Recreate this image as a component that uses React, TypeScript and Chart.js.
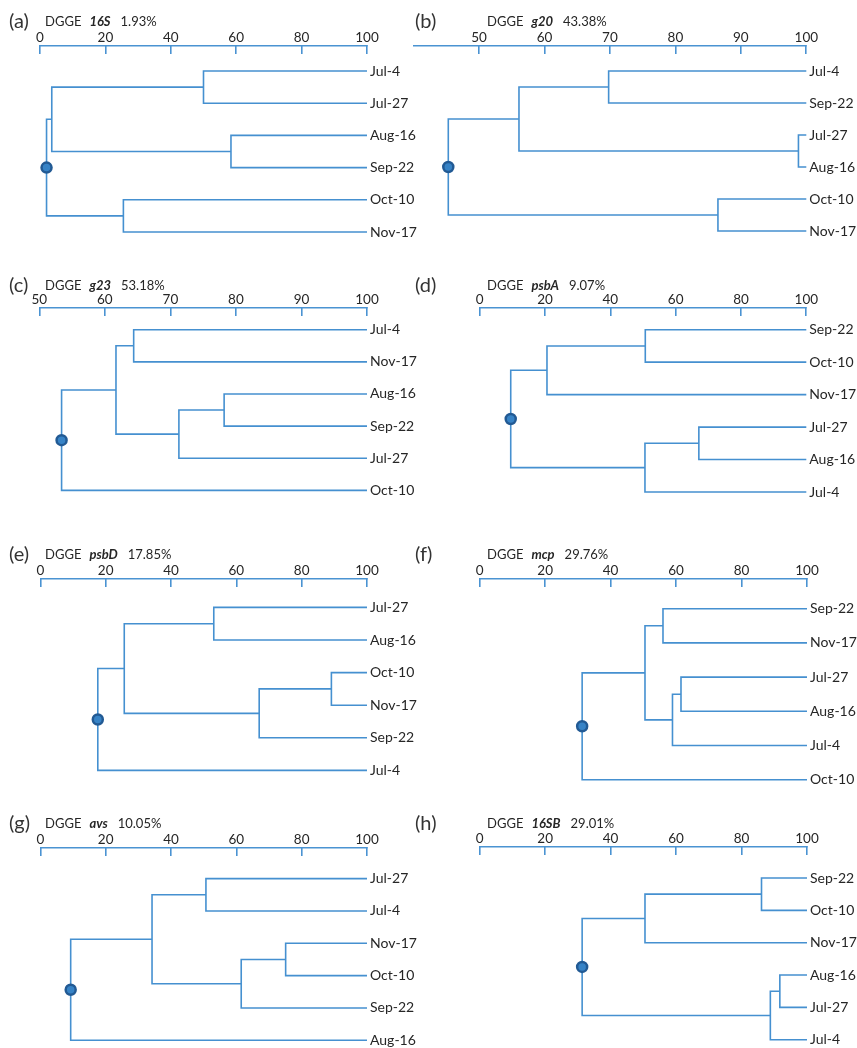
import React, { useEffect, useRef } from "react";
import { Chart, registerables } from "chart.js";

Chart.register(...registerables);

// ---------------- DATA ----------------
const panelLetters = ["(a)", "(b)", "(c)", "(d)", "(e)", "(f)", "(g)", "(h)"];
const geneNames = ["16S", "g20", "g23", "psbA", "psbD", "mcp", "avs", "16SB"];
const similarityLabels = ["1.93%", "43.38%", "53.18%", "9.07%", "17.85%", "29.76%", "10.05%", "29.01%"];

// leaf order (top to bottom) for each dendrogram
const leavesA = ["Jul-4", "Jul-27", "Aug-16", "Sep-22", "Oct-10", "Nov-17"];
const leavesB = ["Jul-4", "Sep-22", "Jul-27", "Aug-16", "Oct-10", "Nov-17"];
const leavesC = ["Jul-4", "Nov-17", "Aug-16", "Sep-22", "Jul-27", "Oct-10"];
const leavesD = ["Sep-22", "Oct-10", "Nov-17", "Jul-27", "Aug-16", "Jul-4"];
const leavesE = ["Jul-27", "Aug-16", "Oct-10", "Nov-17", "Sep-22", "Jul-4"];
const leavesF = ["Sep-22", "Nov-17", "Jul-27", "Aug-16", "Jul-4", "Oct-10"];
const leavesG = ["Jul-27", "Jul-4", "Nov-17", "Oct-10", "Sep-22", "Aug-16"];
const leavesH = ["Sep-22", "Oct-10", "Nov-17", "Aug-16", "Jul-27", "Jul-4"];

// merges: [childA, childB, similarity %]; leaves are 0..5, merge k becomes node 6+k
const mergesA = [[0, 1, 50.0], [2, 3, 58.4], [6, 7, 3.6], [4, 5, 25.5], [8, 9, 2.0]];
const mergesB = [[0, 1, 69.8], [2, 3, 98.8], [6, 7, 56.1], [4, 5, 86.5], [8, 9, 45.3]];
const mergesC = [[0, 1, 64.4], [2, 3, 78.2], [7, 4, 71.3], [6, 8, 61.7], [9, 5, 53.4]];
const mergesD = [[0, 1, 50.7], [6, 2, 20.6], [3, 4, 67.1], [8, 5, 50.6], [7, 9, 9.5]];
const mergesE = [[0, 1, 53.1], [2, 3, 89.1], [7, 4, 67.0], [6, 8, 25.7], [9, 5, 17.6]];
const mergesF = [[0, 1, 56.0], [2, 3, 61.5], [7, 4, 58.9], [6, 8, 50.5], [9, 5, 31.3]];
const mergesG = [[0, 1, 50.7], [2, 3, 75.1], [7, 4, 61.5], [6, 8, 34.2], [9, 5, 9.3]];
const mergesH = [[0, 1, 86.1], [6, 2, 50.5], [3, 4, 91.7], [8, 5, 88.8], [7, 9, 31.3]];

// similarity axis ticks
const ticks0to100 = [0, 20, 40, 60, 80, 100];
const ticks50to100 = [50, 60, 70, 80, 90, 100];
const axisMins = [0, 40, 50, 0, 0, 0, 0, 0];
const axisTicks = [ticks0to100, ticks50to100, ticks50to100, ticks0to100, ticks0to100, ticks0to100, ticks0to100, ticks0to100];

const allLeaves = [leavesA, leavesB, leavesC, leavesD, leavesE, leavesF, leavesG, leavesH];
const allMerges = [mergesA, mergesB, mergesC, mergesD, mergesE, mergesF, mergesG, mergesH];

// ---------------- LAYOUT (page pixels) ----------------
const layouts = [
  { col: 0, headerY: 20, axisY: 45.7, leafTop: 70.7, leafBottom: 231.7, plotLeft: 40, plotRight: 367 },
  { col: 1, headerY: 20, axisY: 45.7, leafTop: 70.7, leafBottom: 230.7, plotLeft: 413.6, plotRight: 806.3 },
  { col: 0, headerY: 284, axisY: 308.3, leafTop: 330, leafBottom: 490.7, plotLeft: 39.3, plotRight: 367 },
  { col: 1, headerY: 284, axisY: 308.3, leafTop: 330, leafBottom: 492.3, plotLeft: 479.7, plotRight: 806.3 },
  { col: 0, headerY: 553, axisY: 579.3, leafTop: 607.7, leafBottom: 770.7, plotLeft: 40.3, plotRight: 367 },
  { col: 1, headerY: 553, axisY: 579.3, leafTop: 609, leafBottom: 780, plotLeft: 479.7, plotRight: 807 },
  { col: 0, headerY: 822, axisY: 847.7, leafTop: 878.3, leafBottom: 1040, plotLeft: 40.3, plotRight: 367 },
  { col: 1, headerY: 822, axisY: 847.3, leafTop: 878.3, leafBottom: 1040, plotLeft: 479.7, plotRight: 807 },
];

const FONT = "Lato, 'Open Sans', 'Noto Sans', sans-serif";
const LINE_COLOR = "#4590d0";
const AXIS_COLOR = "#4a93d2";
const TEXT_COLOR = "#262626";

function buildTree(leaves: string[], merges: number[][]) {
  const pos = leaves.map((_, i) => ({ x: 100, y: i }));
  const segments: { x: number; y: number }[][] = [];
  merges.forEach(([a, b, h]) => {
    const pa = pos[a];
    const pb = pos[b];
    segments.push([
      { x: pa.x, y: pa.y },
      { x: h, y: pa.y },
      { x: h, y: pb.y },
      { x: pb.x, y: pb.y },
    ]);
    pos.push({ x: h, y: (pa.y + pb.y) / 2 });
  });
  return { segments, root: pos[pos.length - 1] };
}

function Panel({ idx }: { idx: number }) {
  const ref = useRef<HTMLCanvasElement>(null);
  const L = layouts[idx];
  const canvasLeft = L.col === 0 ? 0 : 400;
  const canvasRight = L.col === 0 ? 428 : 857;
  const canvasTop = L.axisY - 30;
  const bottomPad = 14;
  const canvasW = canvasRight - canvasLeft;
  const canvasH = Math.round(L.leafBottom + bottomPad - canvasTop);

  useEffect(() => {
    const leaves = allLeaves[idx];
    const { segments, root } = buildTree(leaves, allMerges[idx]);
    const step = (L.leafBottom - L.leafTop) / (leaves.length - 1);
    const yMin = -(L.leafTop - L.axisY) / step;
    const tickVals = axisTicks[idx];

    const datasets: any[] = segments.map((seg) => ({
      type: "line",
      data: seg,
      borderColor: LINE_COLOR,
      borderWidth: 1.6,
      pointRadius: 0,
      tension: 0,
      fill: false,
      clip: false,
      order: 2,
      borderJoinStyle: "miter",
    }));
    datasets.push({
      type: "scatter",
      data: [{ x: root.x, y: root.y }],
      pointRadius: 5,
      pointBackgroundColor: "#3783c6",
      pointBorderColor: "#225a94",
      pointBorderWidth: 2.5,
      clip: false,
      order: 0,
    });

    const chart = new Chart(ref.current as HTMLCanvasElement, {
      type: "line",
      data: { datasets },
      options: {
        animation: false,
        responsive: false,
        devicePixelRatio: 1,
        events: [],
        layout: {
          padding: { left: L.plotLeft - canvasLeft, right: 0, top: 0, bottom: canvasH - (L.leafBottom - canvasTop) },
        },
        plugins: { legend: { display: false }, tooltip: { enabled: false }, title: { display: false } },
        scales: {
          x: {
            type: "linear",
            position: "top",
            min: axisMins[idx],
            max: 100,
            afterBuildTicks: (scale: any) => {
              scale.ticks = tickVals.map((v) => ({ value: v }));
            },
            afterFit: (scale: any) => {
              scale.height = 30;
            },
            grid: {
              drawOnChartArea: false,
              drawTicks: true,
              tickLength: -8,
              color: AXIS_COLOR,
              lineWidth: 1.6,
            },
            border: { display: true, color: AXIS_COLOR, width: 1.6 },
            ticks: {
              padding: 8,
              color: TEXT_COLOR,
              font: { family: FONT, size: 13.5 },
              maxRotation: 0,
              autoSkip: false,
              callback: (v: any) => String(v),
            },
          },
          y: {
            type: "linear",
            position: "right",
            reverse: true,
            min: yMin,
            max: leaves.length - 1,
            afterBuildTicks: (scale: any) => {
              scale.ticks = leaves.map((_, i) => ({ value: i }));
            },
            afterFit: (scale: any) => {
              scale.width = canvasRight - L.plotRight;
            },
            grid: { display: false, drawTicks: false },
            border: { display: false },
            ticks: {
              padding: 3,
              color: TEXT_COLOR,
              font: { family: FONT, size: 14 },
              autoSkip: false,
              callback: (v: any) => leaves[Math.round(Number(v))] ?? "",
            },
          },
        },
      },
    } as any);
    return () => chart.destroy();
  }, [idx]);

  const letterX = L.col === 0 ? 9 : 415;
  const dggeX = L.col === 0 ? 45 : 487;

  return (
    <>
      <canvas
        ref={ref}
        width={canvasW}
        height={canvasH}
        style={{ position: "absolute", left: canvasLeft, top: canvasTop, width: canvasW, height: canvasH }}
      />
      <div
        style={{
          position: "absolute",
          left: letterX,
          top: L.headerY - 12,
          fontFamily: FONT,
          fontSize: 20,
          lineHeight: "24px",
          color: "#333",
          whiteSpace: "nowrap",
        }}
      >
        {panelLetters[idx]}
      </div>
      <div
        style={{
          position: "absolute",
          left: dggeX,
          top: L.headerY - 7,
          fontFamily: FONT,
          fontSize: 13,
          lineHeight: "16px",
          color: TEXT_COLOR,
          whiteSpace: "nowrap",
        }}
      >
        DGGE
        <span style={{ marginLeft: 8, fontWeight: 700, fontStyle: "italic" }}>{geneNames[idx]}</span>
        <span style={{ marginLeft: 10 }}>{similarityLabels[idx]}</span>
      </div>
    </>
  );
}

export default function App() {
  return (
    <div
      style={{
        position: "absolute",
        left: 0,
        top: 0,
        width: 857,
        height: 1048,
        overflow: "hidden",
        background: "#ffffff",
      }}
    >
      {layouts.map((_, i) => (
        <Panel key={i} idx={i} />
      ))}
    </div>
  );
}
